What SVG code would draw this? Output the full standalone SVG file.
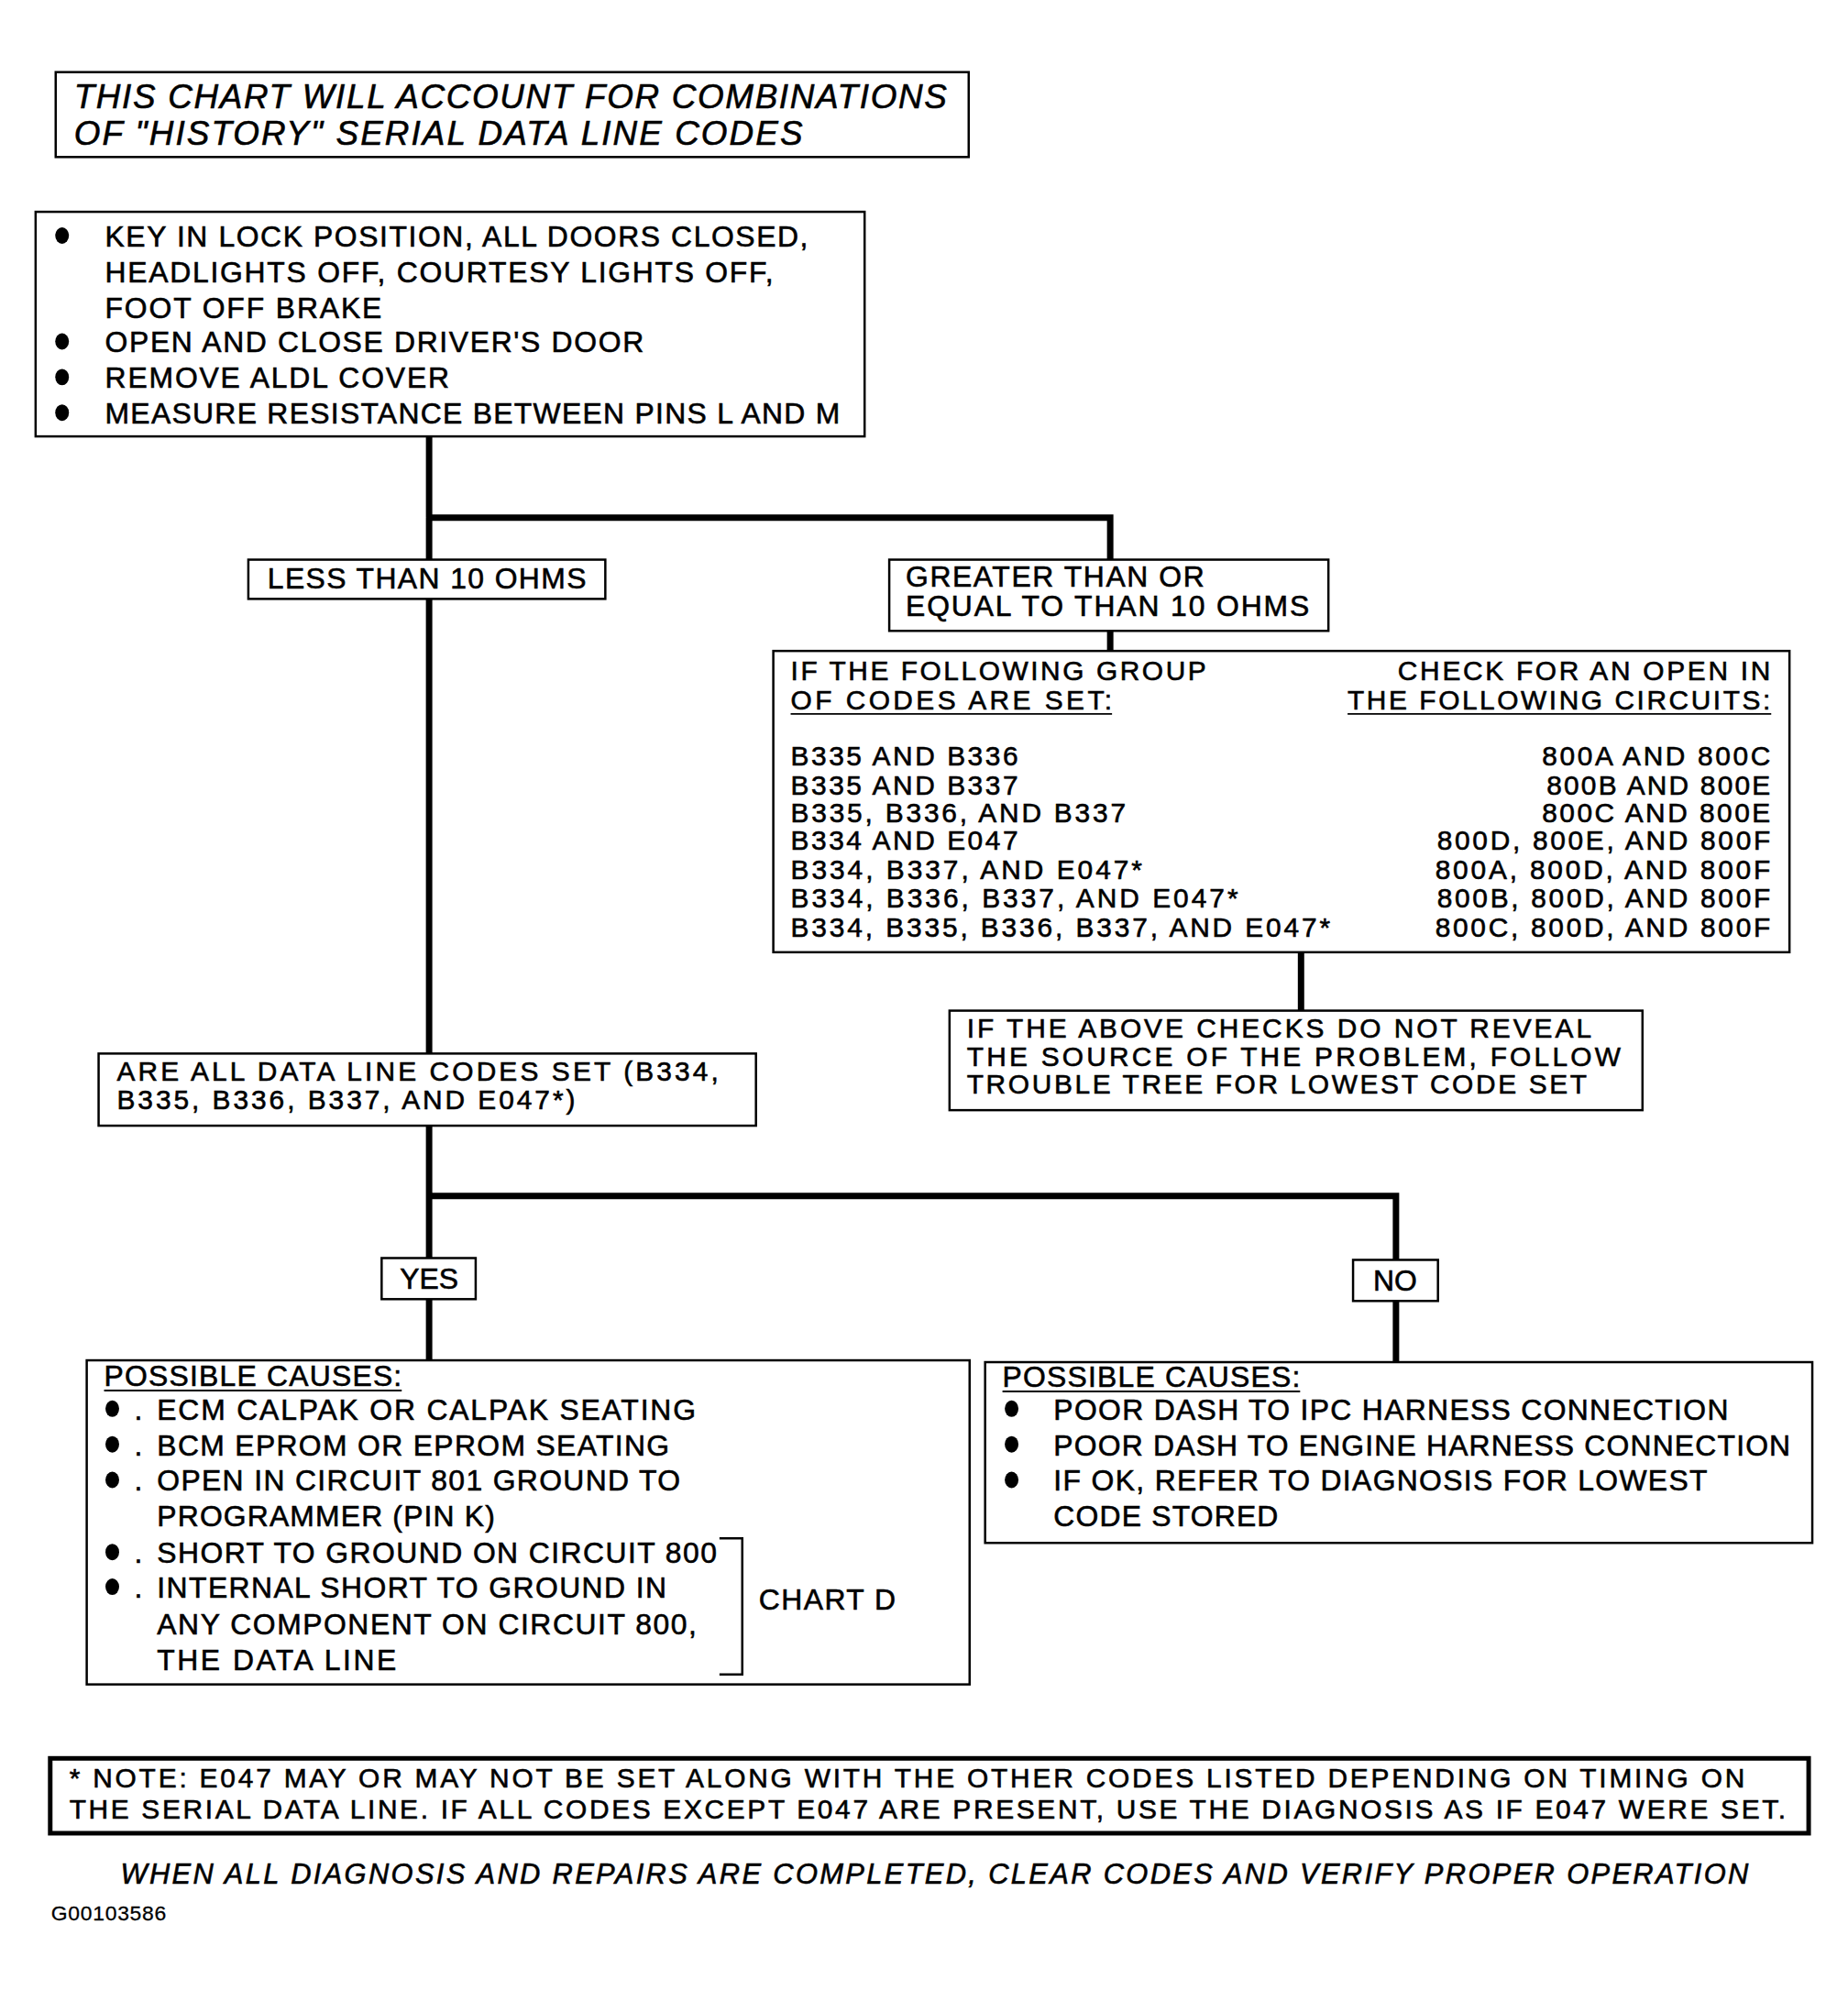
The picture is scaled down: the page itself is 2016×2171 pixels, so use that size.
<svg xmlns="http://www.w3.org/2000/svg" width="2016" height="2171" viewBox="0 0 2016 2171">
<style>
text{font-family:"Liberation Sans",Arial,Helvetica,sans-serif;fill:#000;stroke:#000;stroke-width:0.6;}
.t{font-size:32px;}
.tb{font-size:30px;}
.nt{font-size:30px;}
.ti{font-size:37px;font-style:italic;}
.fi{font-size:31px;font-style:italic;}
.sm{font-size:23px;stroke-width:0.3;}
.box{fill:#fff;stroke:#000;stroke-width:2.5;}
.nbox{fill:#fff;stroke:#000;stroke-width:5;}
.con{fill:none;stroke:#000;stroke-width:7;stroke-linecap:butt;}
.ul{stroke:#000;stroke-width:2;}
.br{fill:none;stroke:#000;stroke-width:2.5;}
</style>
<rect width="2016" height="2171" fill="#fff"/>
<g transform="scale(0.996)">
<g id="connectors">
<polyline class="con" points="470,478 470,567"/>
<polyline class="con" points="467,567 1216,567 1216,713"/>
<polyline class="con" points="470,567 470,1154"/>
<polyline class="con" points="1425,1043 1425,1107"/>
<polyline class="con" points="470,1233 470,1490"/>
<polyline class="con" points="467,1310 1529,1310 1529,1492"/>
</g>
<g id="title">
<rect class="box" x="61" y="79" width="1000" height="93"/>
<text class="ti" x="81" y="118" textLength="956" lengthAdjust="spacing">THIS CHART WILL ACCOUNT FOR COMBINATIONS</text>
<text class="ti" x="81" y="159" textLength="798" lengthAdjust="spacing">OF "HISTORY" SERIAL DATA LINE CODES</text>
</g>
<g id="start">
<rect class="box" x="39" y="232" width="908" height="246"/>
<ellipse cx="68" cy="258" rx="7.5" ry="9"/>
<ellipse cx="68" cy="374" rx="7.5" ry="9"/>
<ellipse cx="68" cy="413" rx="7.5" ry="9"/>
<ellipse cx="68" cy="452" rx="7.5" ry="9"/>
<text class="t" x="115" y="270" textLength="770" lengthAdjust="spacing">KEY IN LOCK POSITION, ALL DOORS CLOSED,</text>
<text class="t" x="115" y="309" textLength="732" lengthAdjust="spacing">HEADLIGHTS OFF, COURTESY LIGHTS OFF,</text>
<text class="t" x="115" y="348" textLength="303" lengthAdjust="spacing">FOOT OFF BRAKE</text>
<text class="t" x="115" y="386" textLength="590" lengthAdjust="spacing">OPEN AND CLOSE DRIVER'S DOOR</text>
<text class="t" x="115" y="425" textLength="377" lengthAdjust="spacing">REMOVE ALDL COVER</text>
<text class="t" x="115" y="464" textLength="805" lengthAdjust="spacing">MEASURE RESISTANCE BETWEEN PINS L AND M</text>
</g>
<g id="less">
<rect class="box" x="272" y="613" width="391" height="43"/>
<text class="t" x="293" y="645" textLength="349" lengthAdjust="spacing">LESS THAN 10 OHMS</text>
</g>
<g id="greater">
<rect class="box" x="974" y="613" width="481" height="78"/>
<text class="t" x="992" y="643" textLength="327" lengthAdjust="spacing">GREATER THAN OR</text>
<text class="t" x="992" y="675" textLength="442" lengthAdjust="spacing">EQUAL TO THAN 10 OHMS</text>
</g>
<g id="table">
<rect class="box" x="847" y="713" width="1113" height="330"/>
<text class="tb" x="866" y="745" textLength="455" lengthAdjust="spacing">IF THE FOLLOWING GROUP</text>
<text class="tb" x="866" y="777" textLength="352" lengthAdjust="spacing">OF CODES ARE SET:</text>
<line class="ul" x1="866" y1="782" x2="1218" y2="782"/>
<text class="tb" x="1939" y="745" text-anchor="end" textLength="408" lengthAdjust="spacing">CHECK FOR AN OPEN IN</text>
<text class="tb" x="1939" y="777" text-anchor="end" textLength="463" lengthAdjust="spacing">THE FOLLOWING CIRCUITS:</text>
<line class="ul" x1="1476" y1="782" x2="1940" y2="782"/>
<text class="tb" x="866" y="838" textLength="249" lengthAdjust="spacing">B335 AND B336</text>
<text class="tb" x="866" y="870" textLength="249" lengthAdjust="spacing">B335 AND B337</text>
<text class="tb" x="866" y="901" textLength="367" lengthAdjust="spacing">B335, B336, AND B337</text>
<text class="tb" x="866" y="931" textLength="249" lengthAdjust="spacing">B334 AND E047</text>
<text class="tb" x="866" y="963" textLength="385" lengthAdjust="spacing">B334, B337, AND E047*</text>
<text class="tb" x="866" y="994" textLength="490" lengthAdjust="spacing">B334, B336, B337, AND E047*</text>
<text class="tb" x="866" y="1026" textLength="591" lengthAdjust="spacing">B334, B335, B336, B337, AND E047*</text>
<text class="tb" x="1939" y="838" text-anchor="end" textLength="250" lengthAdjust="spacing">800A AND 800C</text>
<text class="tb" x="1939" y="870" text-anchor="end" textLength="245" lengthAdjust="spacing">800B AND 800E</text>
<text class="tb" x="1939" y="901" text-anchor="end" textLength="250" lengthAdjust="spacing">800C AND 800E</text>
<text class="tb" x="1939" y="931" text-anchor="end" textLength="365" lengthAdjust="spacing">800D, 800E, AND 800F</text>
<text class="tb" x="1939" y="963" text-anchor="end" textLength="367" lengthAdjust="spacing">800A, 800D, AND 800F</text>
<text class="tb" x="1939" y="994" text-anchor="end" textLength="365" lengthAdjust="spacing">800B, 800D, AND 800F</text>
<text class="tb" x="1939" y="1026" text-anchor="end" textLength="367" lengthAdjust="spacing">800C, 800D, AND 800F</text>
</g>
<g id="ifabove">
<rect class="box" x="1040" y="1107" width="759" height="109"/>
<text class="tb" x="1059" y="1137" textLength="684" lengthAdjust="spacing">IF THE ABOVE CHECKS DO NOT REVEAL</text>
<text class="tb" x="1059" y="1168" textLength="716" lengthAdjust="spacing">THE SOURCE OF THE PROBLEM,  FOLLOW</text>
<text class="tb" x="1059" y="1198" textLength="679" lengthAdjust="spacing">TROUBLE TREE FOR LOWEST CODE SET</text>
</g>
<g id="areall">
<rect class="box" x="108" y="1154" width="720" height="79"/>
<text class="tb" x="128" y="1184" textLength="659" lengthAdjust="spacing">ARE ALL DATA LINE CODES SET (B334,</text>
<text class="tb" x="128" y="1215" textLength="502" lengthAdjust="spacing">B335, B336, B337, AND E047*)</text>
</g>
<g id="yes">
<rect class="box" x="418" y="1378" width="103" height="45"/>
<text class="t" x="470" y="1412" text-anchor="middle">YES</text>
</g>
<g id="no">
<rect class="box" x="1482" y="1380" width="93" height="45"/>
<text class="t" x="1528" y="1414" text-anchor="middle">NO</text>
</g>
<g id="causes-yes">
<rect class="box" x="95" y="1490" width="967" height="355"/>
<text class="t" x="114" y="1518" textLength="326" lengthAdjust="spacing">POSSIBLE CAUSES:</text>
<line class="ul" x1="114" y1="1523" x2="440" y2="1523"/>
<ellipse cx="123" cy="1543" rx="7.5" ry="9"/>
<ellipse cx="123" cy="1582" rx="7.5" ry="9"/>
<ellipse cx="123" cy="1621" rx="7.5" ry="9"/>
<ellipse cx="123" cy="1700" rx="7.5" ry="9"/>
<ellipse cx="123" cy="1738" rx="7.5" ry="9"/>
<text class="t" x="147" y="1555">.</text>
<text class="t" x="147" y="1594">.</text>
<text class="t" x="147" y="1633">.</text>
<text class="t" x="147" y="1712">.</text>
<text class="t" x="147" y="1750">.</text>
<text class="t" x="172" y="1555" textLength="590" lengthAdjust="spacing">ECM CALPAK OR CALPAK SEATING</text>
<text class="t" x="172" y="1594" textLength="561" lengthAdjust="spacing">BCM EPROM OR EPROM SEATING</text>
<text class="t" x="172" y="1633" textLength="573" lengthAdjust="spacing">OPEN IN CIRCUIT 801 GROUND TO</text>
<text class="t" x="172" y="1672" textLength="370" lengthAdjust="spacing">PROGRAMMER (PIN K)</text>
<text class="t" x="172" y="1712" textLength="613" lengthAdjust="spacing">SHORT TO GROUND ON CIRCUIT 800</text>
<text class="t" x="172" y="1750" textLength="558" lengthAdjust="spacing">INTERNAL SHORT TO GROUND IN</text>
<text class="t" x="172" y="1790" textLength="591" lengthAdjust="spacing">ANY COMPONENT ON CIRCUIT 800,</text>
<text class="t" x="172" y="1829" textLength="262" lengthAdjust="spacing">THE DATA LINE</text>
<polyline class="br" points="788,1685 813,1685 813,1834 788,1834"/>
<text class="t" x="831" y="1763" textLength="150" lengthAdjust="spacing">CHART D</text>
</g>
<g id="causes-no">
<rect class="box" x="1079" y="1492" width="906" height="198"/>
<text class="t" x="1098" y="1519" textLength="326" lengthAdjust="spacing">POSSIBLE CAUSES:</text>
<line class="ul" x1="1098" y1="1524" x2="1424" y2="1524"/>
<ellipse cx="1108" cy="1543" rx="7.5" ry="9"/>
<ellipse cx="1108" cy="1582" rx="7.5" ry="9"/>
<ellipse cx="1108" cy="1621" rx="7.5" ry="9"/>
<text class="t" x="1154" y="1555" textLength="739" lengthAdjust="spacing">POOR DASH TO IPC HARNESS CONNECTION</text>
<text class="t" x="1154" y="1594" textLength="807" lengthAdjust="spacing">POOR DASH TO ENGINE HARNESS CONNECTION</text>
<text class="t" x="1154" y="1633" textLength="716" lengthAdjust="spacing">IF OK, REFER TO DIAGNOSIS FOR LOWEST</text>
<text class="t" x="1154" y="1672" textLength="246" lengthAdjust="spacing">CODE STORED</text>
</g>
<g id="note">
<rect class="nbox" x="55" y="1926" width="1926" height="82"/>
<text class="nt" x="76" y="1958" textLength="1835" lengthAdjust="spacing">* NOTE: E047 MAY OR MAY NOT BE SET ALONG WITH THE OTHER CODES LISTED DEPENDING ON TIMING ON</text>
<text class="nt" x="76" y="1992" textLength="1880" lengthAdjust="spacing">THE SERIAL DATA LINE. IF ALL CODES EXCEPT E047 ARE PRESENT, USE THE DIAGNOSIS AS IF E047 WERE SET.</text>
</g>
<g id="footer">
<text class="fi" x="132" y="2063" textLength="1783" lengthAdjust="spacing">WHEN ALL DIAGNOSIS AND REPAIRS ARE COMPLETED, CLEAR CODES AND VERIFY PROPER OPERATION</text>
<text class="sm" x="56" y="2103" textLength="126" lengthAdjust="spacing">G00103586</text>
</g>
</g>
</svg>
